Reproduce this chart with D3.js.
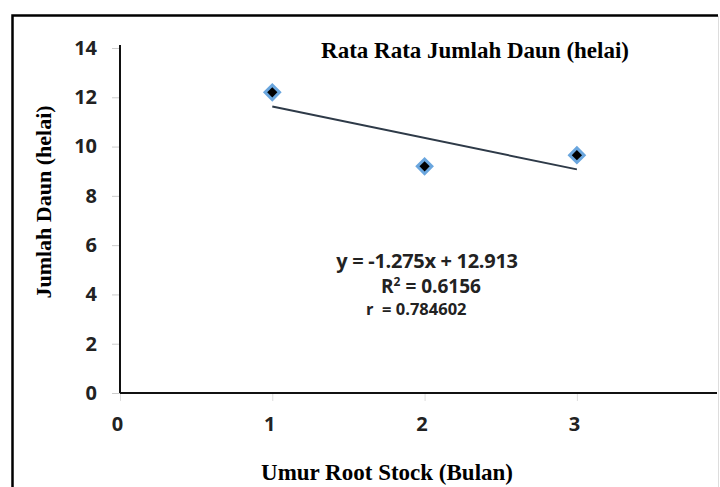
<!DOCTYPE html>
<html>
<head>
<meta charset="utf-8">
<script src="https://cdn.jsdelivr.net/npm/d3@7"></script>
<style>
  body { margin: 0; background: #fff; }
  svg { display: block; }
</style>
</head>
<body>
<script>
var umur = [1, 2, 3];
var daun = [12.2, 9.2, 9.65];
var yTicks = [0, 2, 4, 6, 8, 10, 12, 14];
var xTicks = [0, 1, 2, 3];
var equationLines = ["y = -1.275x + 12.913", "R2 = 0.6156", "r  = 0.784602"];

var W = 720, H = 487;
var margin = {top: 48, right: 3, bottom: 94, left: 120},
    width = W - margin.left - margin.right,
    height = H - margin.top - margin.bottom;

var x = d3.scaleLinear().domain([0, 3.92]).range([0, width]);
var y = d3.scaleLinear().domain([0, 14]).range([height, 0]);

var svg = d3.select("body").append("svg")
    .attr("width", W)
    .attr("height", H);

// outer frame
svg.append("path")
    .attr("d", "M12.5,487 V15.5 H718")
    .attr("fill", "none")
    .attr("stroke", "#000")
    .attr("stroke-width", 2.5);
svg.append("line")
    .attr("x1", 718.5).attr("x2", 718.5).attr("y1", 16).attr("y2", 487)
    .attr("stroke", "#ddd").attr("stroke-width", 1);

var g = svg.append("g")
    .attr("transform", "translate(" + margin.left + "," + margin.top + ")");

var tickFont = "'Open Sans', sans-serif";

// axes
var yAxis = g.append("g")
    .call(d3.axisLeft(y).tickValues(yTicks).tickFormat(d3.format("d")).tickSize(8).tickPadding(15));
yAxis.select(".domain").remove();
yAxis.selectAll(".tick line").attr("stroke", "#ccc");
yAxis.selectAll("text")
    .attr("font-family", tickFont)
    .attr("font-weight", "bold")
    .attr("font-size", "20px")
    .attr("fill", "#222");

var xAxis = g.append("g")
    .attr("transform", "translate(0," + height + ")")
    .call(d3.axisBottom(x).tickValues(xTicks).tickFormat(d3.format("d")).tickSize(8).tickPadding(16));
xAxis.select(".domain").remove();
xAxis.selectAll(".tick line").attr("stroke", "#ddd");
xAxis.selectAll("text")
    .attr("font-family", tickFont)
    .attr("font-weight", "bold")
    .attr("font-size", "20px")
    .attr("fill", "#222")
    .attr("dx", "-3");

g.append("line")
    .attr("x1", 0).attr("x2", 0).attr("y1", -3).attr("y2", height)
    .attr("stroke", "#111").attr("stroke-width", 2);
g.append("line")
    .attr("x1", 0).attr("x2", width).attr("y1", height).attr("y2", height)
    .attr("stroke", "#111").attr("stroke-width", 2);

// linear trend from the data
var mx = d3.mean(umur), my = d3.mean(daun);
var slope = d3.sum(umur, function(d, i) { return (d - mx) * (daun[i] - my); }) /
            d3.sum(umur, function(d) { return (d - mx) * (d - mx); });
var intercept = my - slope * mx;
var x0 = d3.min(umur), x1 = d3.max(umur);

g.append("line")
    .attr("x1", x(x0)).attr("y1", y(intercept + slope * x0))
    .attr("x2", x(x1)).attr("y2", y(intercept + slope * x1))
    .attr("stroke", "#2e3a48")
    .attr("stroke-width", 2);

// points
g.selectAll(".pt")
    .data(umur)
  .enter().append("path")
    .attr("class", "pt")
    .attr("d", d3.symbol().type(d3.symbolSquare).size(105))
    .attr("transform", function(d, i) {
      return "translate(" + x(d) + "," + y(daun[i]) + ") rotate(45)";
    })
    .attr("fill", "#000")
    .attr("stroke", "#6aa6de")
    .attr("stroke-width", 3);

// title
var serif = "'Liberation Serif', 'Times New Roman', serif";
svg.append("text")
    .attr("x", 475).attr("y", 58)
    .attr("text-anchor", "middle")
    .attr("font-family", serif)
    .attr("font-weight", "bold")
    .attr("font-size", "23px")
    .text("Rata Rata Jumlah Daun (helai)");

// axis titles
svg.append("text")
    .attr("transform", "translate(51,202) rotate(-90)")
    .attr("text-anchor", "middle")
    .attr("font-family", serif)
    .attr("font-weight", "bold")
    .attr("font-size", "22px")
    .text("Jumlah Daun (helai)");

svg.append("text")
    .attr("x", 387).attr("y", 480)
    .attr("text-anchor", "middle")
    .attr("font-family", serif)
    .attr("font-weight", "bold")
    .attr("font-size", "23px")
    .text("Umur Root Stock (Bulan)");

// equation
var eq = svg.append("g")
    .attr("font-family", tickFont)
    .attr("font-weight", "bold")
    .attr("fill", "#222");
eq.append("text")
    .attr("x", 427).attr("y", 268)
    .attr("text-anchor", "middle")
    .attr("font-size", "20px")
    .attr("letter-spacing", "-0.3")
    .text(equationLines[0]);
var r2 = eq.append("text")
    .attr("x", 431).attr("y", 293)
    .attr("text-anchor", "middle")
    .attr("font-size", "19px");
r2.append("tspan").text("R");
r2.append("tspan").attr("dy", "-7").attr("font-size", "12px").text("2");
r2.append("tspan").attr("dy", "7").text(" = 0.6156");
eq.append("text")
    .attr("x", 366).attr("y", 315)
    .attr("font-size", "16.5px")
    .style("white-space", "pre")
    .text(equationLines[2]);
</script>
</body>
</html>
